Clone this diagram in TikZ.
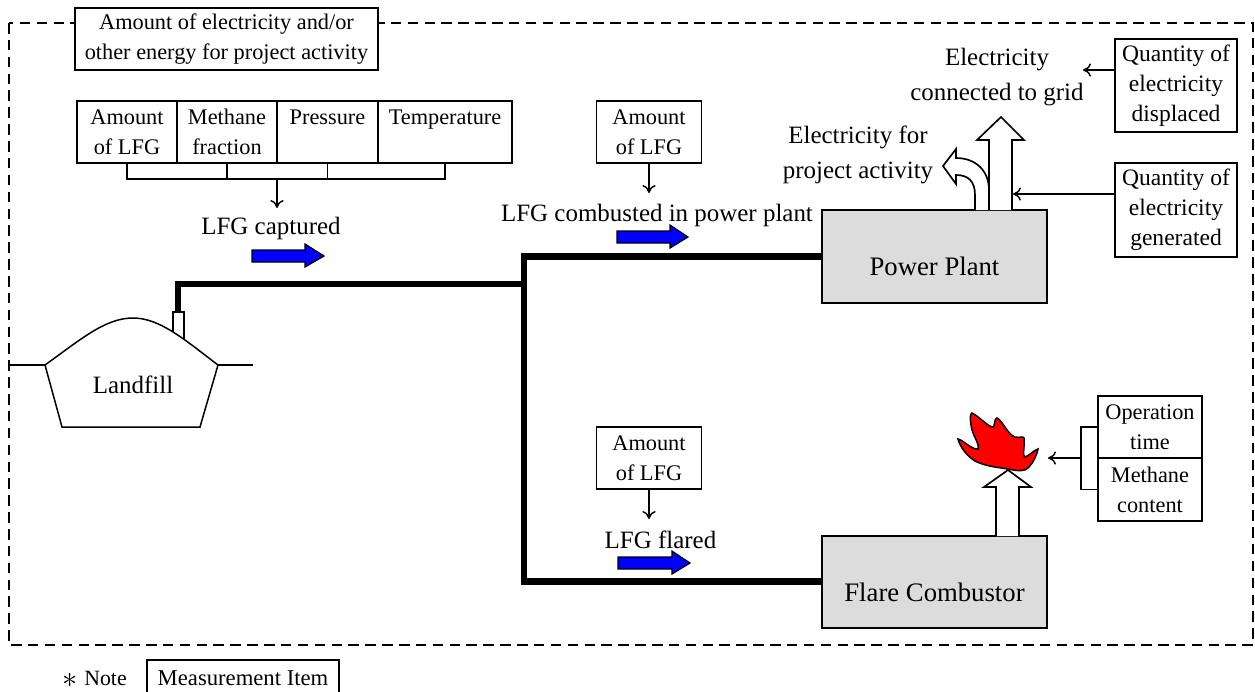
\documentclass[tikz,border=0pt]{standalone}
\usepackage{fontspec}
\usepackage{xcolor}
\setmainfont{Liberation Serif}
\usetikzlibrary{positioning, arrows.meta}
\definecolor{plantgray}{RGB}{220,220,220}
\tikzset{
  item/.style = {draw, fill = white, line width = 0.85pt, align = center, inner sep = 0pt, font = \fontsize{12.7}{17}\selectfont},
  quantity/.style = {item, minimum width = 2.44cm, font = \fontsize{13.4}{17}\selectfont},
  plant/.style = {draw, fill = plantgray, line width = 0.95pt, minimum width = 4.5cm, minimum height = 1.86cm, font = \fontsize{15.2}{18}\selectfont},
  label/.style = {inner sep = 0pt, align = center, font = \fontsize{14.2}{19.8}\selectfont},
  pipe/.style = {line width = 3.7pt},
  thin line/.style = {line width = 0.8pt},
  hollow/.style = {draw, fill = white, line width = 0.95pt},
  flow/.style = {draw = black, fill = blue, line width = 0.7pt}
}
\begin{document}
\begin{tikzpicture}[x = 0.02cm, y = -0.02cm, >={To[length = 4.5pt, width = 7.5pt]}]
\useasboundingbox (0, 0) rectangle (1255, 691);
\coordinate (tl) at (9, 23);
\coordinate (br) at (1253, 645);
\draw [line width = 0.7pt, dash pattern = on 6pt off 3.6pt] (tl) rectangle (br);
% boxes
\node [item, minimum width = 6.06cm, minimum height = 1.24cm] (energy) at (226.5, 39) {Amount of electricity and/or\\other energy for project activity};
\node [item, minimum width = 2cm, minimum height = 1.24cm] (amount) at (127, 132) {Amount\\of LFG};
\node [item, minimum width = 2cm, minimum height = 1.24cm] (fraction) at (227, 132) {Methane\\fraction};
\node [item, minimum width = 2.02cm, minimum height = 1.24cm] (pressure) at (327.5, 132) {Pressure\\\phantom{of LFG}};
\node [item, minimum width = 2.68cm, minimum height = 1.24cm] (temperature) at (445, 132) {Temperature\\\phantom{of LFG}};
\node [item, minimum width = 2.1cm, minimum height = 1.24cm] (amount2) at (649, 132) {Amount\\of LFG};
\node [item, minimum width = 2.1cm, minimum height = 1.24cm] (amount3) at (649, 458) {Amount\\of LFG};
\node [quantity, minimum height = 1.86cm] (displaced) at (1176, 85.5) {Quantity of\\electricity\\displaced};
\node [quantity, minimum height = 1.88cm] (generated) at (1176, 210) {Quantity of\\electricity\\generated};
\node [item, minimum width = 2.08cm, minimum height = 1.24cm] (operation) at (1150, 427) {Operation\\time};
\node [item, minimum width = 2.08cm, minimum height = 1.26cm] (content) at (1150, 489.5) {Methane\\content};
\node [plant, text height = 0.75cm] (power) at (934.5, 256.5) {Power Plant};
\node [plant, minimum height = 1.84cm, text height = 0.8cm] (flarebox) at (934.5, 582) {Flare Combustor};
% pipes
\draw [hollow] (173, 312) rectangle (184, 339);
\coordinate (well) at (178, 312);
\coordinate (joint) at (524, 284);
\coordinate (jointa) at (524, 256.5);
\coordinate (jointb) at (524, 581.5);
\draw [pipe] (well) |- (joint);
\draw [pipe] (power.west |- jointa) -- (jointa) -- (jointb) -- (flarebox.west |- jointb);
% landfill
\draw [fill = white, line width = 0.85pt] (45, 365) .. controls (80, 340) and (105, 318) .. (133, 318) .. controls (160, 318) and (185, 340) .. (218, 365) -- (200, 427) -- (62, 427) -- cycle;
\draw [thin line] (10, 365) -- (45, 365);
\draw [thin line] (218, 365) -- (253, 365);
% labels
\node [label] (captured) at (271, 228) {LFG captured};
\node [label] (combusted) at (657, 215) {LFG combusted in power plant};
\node [label] (flared) at (660.5, 540) {LFG flared};
\node [label] (grid) at (997, 77) {Electricity\\connected to grid};
\node [label] (own) at (858, 155) {Electricity for\\project activity};
\node [label] (landfill) at (133, 385) {Landfill};
\node [label, font = \fontsize{12.4}{14}\selectfont, anchor = west] (note) at (84, 678) {Note};
\node [inner sep = 0pt, font = \fontsize{17}{17}\selectfont] (star) at (70, 680) {$\ast$};
\node [item, minimum width = 3.84cm, minimum height = 0.72cm, font = \fontsize{12.9}{14}\selectfont] (legend) at (243, 678) {Measurement Item};
% bracket
\coordinate (junction) at (277, 179);
\draw [thin line] (amount.south) |- (junction);
\draw [thin line] (fraction.south) -- (fraction.south |- junction);
\draw [thin line] (pressure.south) -- (pressure.south |- junction);
\draw [thin line] (temperature.south) |- (junction);
\draw [thin line, ->] (junction) -- (277, 208);
\draw [thin line, ->] (amount2.south) -- (649, 193);
\draw [thin line, ->] (amount3.south) -- (649, 519);
\draw [thin line, ->] (displaced.west |- 0, 70) -- (1083, 70);
\draw [thin line, ->] (generated.west |- 0, 194) -- (1013, 194);
\coordinate (fork) at (1081, 458);
\draw [thin line] (operation.west) -| (fork);
\draw [thin line] (content.west) -| (fork);
\draw [thin line, ->] (fork) -- (1048, 458);
% block arrows
\draw [flow] (252, 250) -- (305, 250) -- (305, 244) -- (324, 256) -- (305, 267) -- (305, 262) -- (252, 262) -- cycle;
\draw [flow] (617, 231) -- (670, 231) -- (670, 225) -- (688, 237) -- (670, 248) -- (670, 243) -- (617, 243) -- cycle;
\draw [flow] (618, 557) -- (672, 557) -- (672, 551) -- (690, 563) -- (672, 574) -- (672, 569) -- (618, 569) -- cycle;
\draw [hollow] (975, 210) -- (975, 195) .. controls (975, 181) and (968, 175) .. (956, 175) -- (956, 184) -- (943, 166) -- (956, 149) -- (956, 158) .. controls (975, 158) and (989, 170) .. (989, 190) -- (989, 210);
\draw [hollow] (989, 210) -- (989, 140) -- (977, 140) -- (1001, 117) -- (1024, 140) -- (1012, 140) -- (1012, 210);
\draw [line width = 1.6pt] (989, 175) -- (989, 210);
\draw [hollow] (996, 536) -- (996, 487) -- (984, 487) -- (1008, 470) -- (1031, 487) -- (1019, 487) -- (1019, 536);
% flame
\draw [fill = red, line width = 0.85pt] (972, 413) .. controls (980, 417) and (988, 427) .. (993, 427) .. controls (995, 427) and (994, 418) .. (997, 418) .. controls (1002, 420) and (1008, 435) .. (1015, 437) .. controls (1020, 438) and (1023, 436) .. (1024, 438) .. controls (1025, 445) and (1022, 457) .. (1025, 457) .. controls (1029, 456) and (1034, 450) .. (1038, 449) .. controls (1037, 455) and (1033, 463) .. (1029, 467) .. controls (1025, 472) and (1018, 471) .. (1008, 469) .. controls (995, 467) and (985, 466) .. (975, 461) .. controls (967, 456) and (960, 447) .. (958, 439) .. controls (963, 440) and (972, 450) .. (978, 449) .. controls (980, 444) and (972, 435) .. (971, 425) .. controls (970, 418) and (970, 414) .. (972, 413) -- cycle;
\end{tikzpicture}
\end{document}
